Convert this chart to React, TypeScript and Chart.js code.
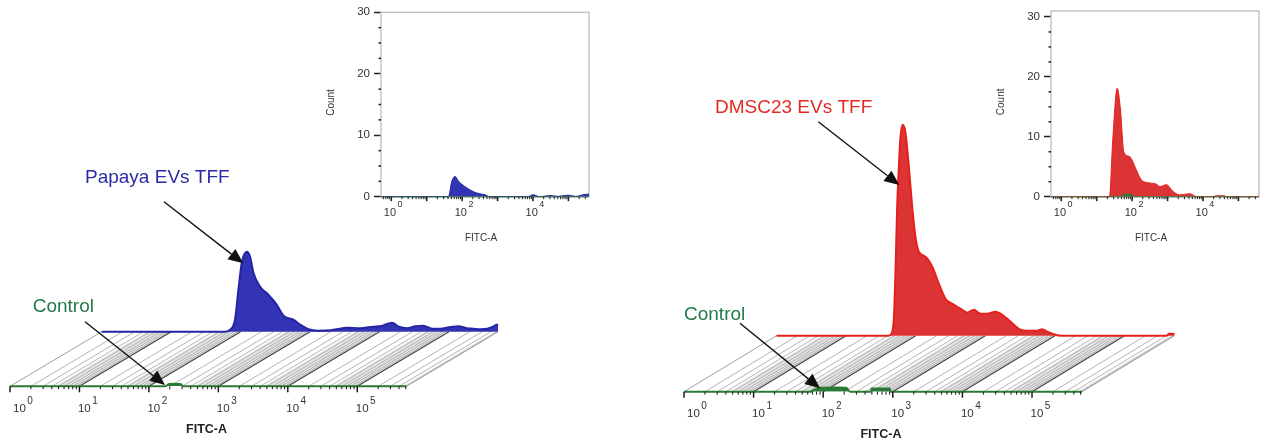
import React, { useEffect, useRef } from 'react';
import { Chart, registerables } from 'chart.js';
Chart.register(...registerables);

// ---------------- DATA ----------------
const decadeExponents = [0, 1, 2, 3, 4, 5];
const insetDecadeLabels = [0, 2, 4];
const insetCountTicks = [0, 10, 20, 30];

// Left panel, 3D overlay – Papaya EVs TFF (back layer): FITC-A intensity / count
const papaya3dFitc = [1, 60, 71, 83, 93, 104, 123, 137, 153, 191, 251, 331, 414, 575, 719, 948, 1300, 2000, 2700, 3400, 5200, 8100, 11000, 15100, 19000, 24800, 33000, 42700, 57000, 75000, 100000, 138000, 180000, 224000, 290000, 355000, 430000, 490000, 512000];
const papaya3dCount = [0, 0, 0.2, 1.2, 4.2, 6.9, 8.0, 7.5, 5.9, 4.5, 3.7, 2.7, 1.6, 1.2, 0.7, 0.25, 0.1, 0.15, 0.3, 0.4, 0.35, 0.5, 0.6, 0.9, 0.5, 0.35, 0.55, 0.6, 0.3, 0.3, 0.45, 0.55, 0.35, 0.3, 0.25, 0.3, 0.5, 0.7, 0.7];
// Left panel, 3D overlay – Control (front layer)
const papayaCtrl3dFitc = [1, 170, 195, 240, 290, 310, 512000];
const papayaCtrl3dCount = [0, 0, 0.22, 0.25, 0.2, 0, 0];

// Right panel, 3D overlay – DMSC23 EVs TFF (back layer)
const dmsc3dFitc = [1, 40, 43, 48, 51, 54, 57, 60, 65, 71, 79, 89, 99, 111, 138, 173, 215, 268, 334, 441, 550, 684, 853, 1064, 1403, 1652, 2065, 2570, 3206, 3981, 5572, 6577, 7762, 10790, 13000, 400000, 440000, 480000, 524000];
const dmsc3dCount = [0, 0, 0.07, 1.2, 5.9, 12.6, 16.6, 19.6, 21.1, 20.4, 17.2, 12.9, 9.9, 8.4, 7.9, 6.9, 5.2, 3.7, 3.2, 2.7, 2.3, 2.6, 2.2, 2.2, 2.4, 2.2, 1.7, 1.1, 0.6, 0.5, 0.5, 0.65, 0.4, 0.05, 0, 0, 0.2, 0.2, 0.15];
// Right panel, 3D overlay – Control (front layer)
const dmscCtrl3dFitc = [1, 66, 70, 90, 150, 215, 243, 480, 500, 900, 930, 524000];
const dmscCtrl3dCount = [0, 0, 0.1, 0.4, 0.42, 0.4, 0, 0, 0.33, 0.33, 0, 0];

// Insets (Count vs FITC-A)
const papayaInsetFitc = [0.52, 41, 51, 63, 79, 110, 168, 259, 447, 617, 7000, 10000, 16000, 30000, 50000, 98000, 160000, 324000, 380000];
const papayaInsetCount = [0, 0, 2.5, 3.3, 2.5, 1.8, 1.1, 0.6, 0.3, 0, 0, 0.3, 0, 0.2, 0.05, 0.25, 0.05, 0.4, 0.4];
const papayaCtrlInsetFitc = [0.52, 380000];
const papayaCtrlInsetCount = [0, 0];

const dmscInsetFitc = [0.52, 22.9, 28.4, 37.8, 46.9, 58.2, 84.3, 131, 182, 309, 479, 603, 933, 1413, 2188, 4266, 6607, 19000, 22400, 39800, 46800, 380000];
const dmscInsetCount = [0, 0, 9.5, 18.1, 14.5, 7.5, 6.7, 4.5, 2.8, 2.3, 2.1, 1.7, 2.0, 0.9, 0.3, 0.5, 0, 0, 0.15, 0.15, 0, 0];
const dmscCtrlInsetFitc = [0.52, 50, 54, 70, 102, 110, 380000];
const dmscCtrlInsetCount = [0, 0, 0.4, 0.45, 0.35, 0, 0];

// ---------------- STYLE ----------------
const FONT_ANN = '"Liberation Sans", Arial, sans-serif';
const FONT_AX = '"Liberation Sans", Arial, sans-serif';
const GREEN = '#2b7a34';
const GREEN_TEXT = '#237a4a';

const toPoints = (xs: number[], ys: number[]) => xs.map((x, i) => ({ x, y: ys[i] }));

function drawArrow(ctx: CanvasRenderingContext2D, x1: number, y1: number, x2: number, y2: number) {
  const ang = Math.atan2(y2 - y1, x2 - x1);
  const L = 15, W = 6.5;
  const bx = x2 - L * Math.cos(ang), by = y2 - L * Math.sin(ang);
  ctx.strokeStyle = '#111';
  ctx.lineWidth = 1.4;
  ctx.beginPath(); ctx.moveTo(x1, y1); ctx.lineTo(bx, by); ctx.stroke();
  ctx.fillStyle = '#111';
  ctx.beginPath();
  ctx.moveTo(x2, y2);
  ctx.lineTo(bx - W * Math.sin(ang), by + W * Math.cos(ang));
  ctx.lineTo(bx + W * Math.sin(ang), by - W * Math.cos(ang));
  ctx.closePath(); ctx.fill();
}

function drawPow(ctx: CanvasRenderingContext2D, x: number, baseY: number, exp: number, big: number, small: number, raise: number) {
  ctx.textAlign = 'left';
  ctx.textBaseline = 'alphabetic';
  ctx.font = `${big}px ${FONT_AX}`;
  const w = ctx.measureText('10').width;
  ctx.fillText('10', x, baseY);
  ctx.font = `${small}px ${FONT_AX}`;
  ctx.fillText(String(exp), x + w + 1.5, baseY - raise);
}

type Ann = { text: string; color: string; x: number; y: number; ax1: number; ay1: number; ax2: number; ay2: number };
type MainCfg = {
  width: number; height: number; x0: number; frontY: number; decadePx: number; frontMaxExp: number;
  dxPx: number; dyPx: number;
  backFitc: number[]; backCount: number[]; backFill: string; backLine: string; backName: string;
  ctrlFitc: number[]; ctrlCount: number[];
  sample: Ann; control: Ann;
};

const UNIT_PX = 10;
const Y_MAX = 30;

function buildMain(canvas: HTMLCanvasElement, cfg: MainCfg) {
  const shiftDec = cfg.dxPx / cfg.decadePx;
  const dyUnits = cfg.dyPx / UNIT_PX;
  const areaW = cfg.decadePx * cfg.frontMaxExp + cfg.dxPx;
  const frontMax = Math.pow(10, cfg.frontMaxExp);

  const decor = {
    id: 'floor3d',
    beforeDatasetsDraw(chart: any) {
      const ctx = chart.ctx as CanvasRenderingContext2D;
      const { x, xb, y, yb } = chart.scales;
      const fy = y.getPixelForValue(0), by = yb.getPixelForValue(0);
      ctx.save();
      // shaded bands (dense minor lines region)
      for (let n = 0; n <= 5; n++) {
        const v1 = 4.5 * Math.pow(10, n);
        const v2 = Math.min(Math.pow(10, n + 1), frontMax);
        if (v1 >= frontMax) continue;
        ctx.fillStyle = 'rgba(0,0,0,0.1)';
        ctx.beginPath();
        ctx.moveTo(x.getPixelForValue(v1), fy);
        ctx.lineTo(x.getPixelForValue(v2), fy);
        ctx.lineTo(xb.getPixelForValue(v2), by);
        ctx.lineTo(xb.getPixelForValue(v1), by);
        ctx.closePath(); ctx.fill();
      }
      const seg = (v: number, color: string, lw: number) => {
        ctx.strokeStyle = color; ctx.lineWidth = lw;
        ctx.beginPath();
        ctx.moveTo(x.getPixelForValue(v), fy);
        ctx.lineTo(xb.getPixelForValue(v), by);
        ctx.stroke();
      };
      for (let n = 0; n <= 5; n++) {
        for (let m = 2; m <= 9; m++) {
          const v = m * Math.pow(10, n);
          if (v > frontMax) continue;
          seg(v, '#adadad', 0.9);
        }
      }
      seg(1, '#a0a0a0', 1);
      seg(frontMax, '#a0a0a0', 1);
      for (let n = 1; n <= 5; n++) seg(Math.pow(10, n), '#454545', 1.3);
      ctx.restore();
    },
    afterDraw(chart: any) {
      const ctx = chart.ctx as CanvasRenderingContext2D;
      const { x, y } = chart.scales;
      const fy = y.getPixelForValue(0);
      ctx.save();
      // front axis ticks
      ctx.strokeStyle = '#1a1a1a';
      for (let n = 0; n <= 5; n++) {
        for (let m = 1; m <= 9; m++) {
          const v = m * Math.pow(10, n);
          if (v > frontMax) continue;
          const px = x.getPixelForValue(v);
          ctx.lineWidth = m === 1 ? 1.5 : 1;
          ctx.beginPath(); ctx.moveTo(px, fy); ctx.lineTo(px, fy + (m === 1 ? 6 : 3)); ctx.stroke();
        }
      }
      // decade labels
      ctx.fillStyle = '#333';
      decadeExponents.forEach((e) => {
        const px = x.getPixelForValue(Math.pow(10, e));
        drawPow(ctx, Math.max(px - 1.5, chart.chartArea.left + 3), fy + 25.5, e, 11.5, 10, 8);
      });
      // axis title
      ctx.font = `bold 12.5px ${FONT_AX}`;
      ctx.textAlign = 'center';
      ctx.textBaseline = 'middle';
      ctx.fillStyle = '#222';
      ctx.fillText('FITC-A', x.getPixelForValue(Math.pow(10, 2.83)), fy + 43);
      // annotations
      [cfg.sample, cfg.control].forEach((a) => {
        ctx.font = `19px ${FONT_ANN}`;
        ctx.textAlign = 'left';
        ctx.textBaseline = 'alphabetic';
        ctx.fillStyle = a.color;
        ctx.fillText(a.text, a.x, a.y);
        drawArrow(ctx, a.ax1, a.ay1, a.ax2, a.ay2);
      });
      ctx.restore();
    },
  };

  return new Chart(canvas, {
    type: 'line',
    data: {
      datasets: [
        {
          label: 'Control',
          data: toPoints(cfg.ctrlFitc, cfg.ctrlCount),
          xAxisID: 'x', yAxisID: 'y',
          borderColor: GREEN, backgroundColor: GREEN, borderWidth: 2,
          fill: 'origin', pointRadius: 0, cubicInterpolationMode: 'monotone', clip: false,
        } as any,
        {
          label: cfg.backName,
          data: toPoints(cfg.backFitc, cfg.backCount),
          xAxisID: 'xb', yAxisID: 'yb',
          borderColor: cfg.backLine, backgroundColor: cfg.backFill, borderWidth: 2,
          fill: 'origin', pointRadius: 0, cubicInterpolationMode: 'monotone', clip: false,
        } as any,
      ],
    },
    options: {
      animation: false,
      responsive: false,
      layout: {
        padding: {
          left: cfg.x0,
          right: cfg.width - cfg.x0 - areaW,
          top: cfg.frontY - Y_MAX * UNIT_PX,
          bottom: cfg.height - cfg.frontY,
        },
      },
      plugins: { legend: { display: false }, tooltip: { enabled: false } },
      scales: {
        x: { type: 'logarithmic', display: false, min: 1, max: Math.pow(10, cfg.frontMaxExp + shiftDec) },
        xb: { type: 'logarithmic', display: false, min: Math.pow(10, -shiftDec), max: frontMax },
        y: { type: 'linear', display: false, min: 0, max: Y_MAX },
        yb: { type: 'linear', display: false, min: -dyUnits, max: Y_MAX - dyUnits },
      },
    } as any,
    plugins: [decor],
  });
}

type InsetCfg = {
  width: number; height: number; right: number; top: number; bottom: number; yMax: number;
  fitc: number[]; count: number[]; fill: string; line: string; name: string;
  ctrlFitc: number[]; ctrlCount: number[];
};

const INSET_LEFT = 61;
const INSET_XMIN = Math.pow(10, -0.29);
const INSET_XMAX = Math.pow(10, 5.58);

function buildInset(canvas: HTMLCanvasElement, cfg: InsetCfg) {
  const decor = {
    id: 'insetDecor',
    beforeDatasetsDraw(chart: any) {
      const ctx = chart.ctx as CanvasRenderingContext2D;
      const a = chart.chartArea;
      ctx.save();
      ctx.strokeStyle = '#bdbdbd';
      ctx.lineWidth = 1.3;
      ctx.strokeRect(a.left, a.top, a.right - a.left, a.bottom - a.top);
      ctx.strokeStyle = '#94aca6';
      ctx.lineWidth = 1.6;
      ctx.beginPath(); ctx.moveTo(a.left, a.bottom); ctx.lineTo(a.right, a.bottom); ctx.stroke();
      ctx.restore();
    },
    afterDraw(chart: any) {
      const ctx = chart.ctx as CanvasRenderingContext2D;
      const { x, y } = chart.scales;
      const a = chart.chartArea;
      ctx.save();
      ctx.strokeStyle = '#222';
      // y minor ticks
      for (let v = 2.5; v < cfg.yMax; v += 2.5) {
        if (Math.abs(v % 10) < 1e-6) continue;
        const py = y.getPixelForValue(v);
        ctx.lineWidth = 1.5;
        ctx.beginPath(); ctx.moveTo(a.left - 2.5, py); ctx.lineTo(a.left, py); ctx.stroke();
      }
      // x ticks
      for (let n = -1; n <= 5; n++) {
        for (let m = 1; m <= 9; m++) {
          const v = m * Math.pow(10, n);
          if (v < INSET_XMIN || v > INSET_XMAX) continue;
          const px = x.getPixelForValue(v);
          ctx.lineWidth = m === 1 ? 1.6 : 1;
          ctx.beginPath(); ctx.moveTo(px, a.bottom); ctx.lineTo(px, a.bottom + (m === 1 ? 4.5 : 2.5)); ctx.stroke();
        }
      }
      ctx.fillStyle = '#333';
      insetDecadeLabels.forEach((e) => {
        const px = x.getPixelForValue(Math.pow(10, e));
        drawPow(ctx, px - 7.5, a.bottom + 19.5, e, 11, 9, 9);
      });
      ctx.font = `10px ${FONT_AX}`;
      ctx.textAlign = 'center';
      ctx.textBaseline = 'middle';
      ctx.fillText('FITC-A', (a.left + a.right) / 2 - 4, a.bottom + 42);
      ctx.translate(11, (a.top + a.bottom) / 2 - 2);
      ctx.rotate(-Math.PI / 2);
      ctx.fillText('Count', 0, 0);
      ctx.restore();
    },
  };

  return new Chart(canvas, {
    type: 'line',
    data: {
      datasets: [
        {
          label: 'Control',
          data: toPoints(cfg.ctrlFitc, cfg.ctrlCount),
          borderColor: 'rgba(43,122,52,0.55)', backgroundColor: GREEN, borderWidth: 1.2,
          fill: 'origin', pointRadius: 0, cubicInterpolationMode: 'monotone', clip: false,
        } as any,
        {
          label: cfg.name,
          data: toPoints(cfg.fitc, cfg.count),
          borderColor: cfg.line, backgroundColor: cfg.fill, borderWidth: 1,
          fill: 'origin', pointRadius: 0, cubicInterpolationMode: 'monotone', clip: false,
        } as any,
      ],
    },
    options: {
      animation: false,
      responsive: false,
      layout: { padding: { left: 0, right: cfg.width - cfg.right, top: cfg.top, bottom: cfg.height - cfg.bottom } },
      plugins: { legend: { display: false }, tooltip: { enabled: false } },
      scales: {
        x: { type: 'logarithmic', display: false, min: INSET_XMIN, max: INSET_XMAX },
        y: {
          type: 'linear', min: 0, max: cfg.yMax,
          afterFit: (s: any) => { s.width = INSET_LEFT; },
          afterBuildTicks: (s: any) => { s.ticks = insetCountTicks.map((v) => ({ value: v })); },
          ticks: { font: { family: FONT_AX, size: 11.5 }, color: '#333', padding: 4 },
          grid: { drawOnChartArea: false, tickLength: 7, tickWidth: 1.5, tickColor: '#222' },
          border: { display: false },
        },
      },
    } as any,
    plugins: [decor],
  });
}

// ---------------- PANELS ----------------
const LEFT_MAIN: MainCfg = {
  width: 620, height: 445, x0: 10, frontY: 386.3, decadePx: 69.45, frontMaxExp: 5.71, dxPx: 91.7, dyPx: 54.6,
  backFitc: papaya3dFitc, backCount: papaya3dCount, backFill: '#3333b6', backLine: '#2424a4', backName: 'Papaya EVs TFF',
  ctrlFitc: papayaCtrl3dFitc, ctrlCount: papayaCtrl3dCount,
  sample: { text: 'Papaya EVs TFF', color: '#2b2ba8', x: 85, y: 183, ax1: 164, ay1: 201.7, ax2: 243.3, ay2: 263.3 },
  control: { text: 'Control', color: GREEN_TEXT, x: 32.7, y: 312, ax1: 85, ay1: 321.7, ax2: 165, ay2: 385 },
};

const RIGHT_MAIN: MainCfg = {
  width: 589, height: 445, x0: 10, frontY: 391.7, decadePx: 69.6, frontMaxExp: 5.72, dxPx: 92.5, dyPx: 56,
  backFitc: dmsc3dFitc, backCount: dmsc3dCount, backFill: '#dc3434', backLine: '#e6201c', backName: 'DMSC23 EVs TFF',
  ctrlFitc: dmscCtrl3dFitc, ctrlCount: dmscCtrl3dCount,
  sample: { text: 'DMSC23 EVs TFF', color: '#e42a22', x: 41, y: 113, ax1: 144.3, ay1: 121.7, ax2: 225.3, ay2: 185 },
  control: { text: 'Control', color: GREEN_TEXT, x: 10, y: 320, ax1: 66, ay1: 323.3, ax2: 146, ay2: 388.3 },
};

const LEFT_INSET: InsetCfg = {
  width: 280, height: 250, right: 269, top: 12.3, bottom: 196.7, yMax: 30,
  fitc: papayaInsetFitc, count: papayaInsetCount, fill: '#3333b6', line: '#2424a4', name: 'Papaya EVs TFF',
  ctrlFitc: papayaCtrlInsetFitc, ctrlCount: papayaCtrlInsetCount,
};

const RIGHT_INSET: InsetCfg = {
  width: 273, height: 250, right: 269, top: 11, bottom: 196.7, yMax: 31,
  fitc: dmscInsetFitc, count: dmscInsetCount, fill: '#dc3434', line: '#e6201c', name: 'DMSC23 EVs TFF',
  ctrlFitc: dmscCtrlInsetFitc, ctrlCount: dmscCtrlInsetCount,
};

function ChartCanvas(props: { left: number; top: number; width: number; height: number; build: (c: HTMLCanvasElement) => Chart }) {
  const ref = useRef<HTMLCanvasElement>(null);
  useEffect(() => {
    const chart = props.build(ref.current as HTMLCanvasElement);
    return () => chart.destroy();
  }, []);
  return (
    <canvas
      ref={ref}
      width={props.width}
      height={props.height}
      style={{ position: 'absolute', left: props.left, top: props.top, width: props.width, height: props.height }}
    />
  );
}

export default function App() {
  return (
    <div style={{ position: 'absolute', left: 0, top: 0, width: 1263, height: 445, background: '#fff', overflow: 'hidden' }}>
      <ChartCanvas left={0} top={0} width={620} height={445} build={(c) => buildMain(c, LEFT_MAIN)} />
      <ChartCanvas left={674} top={0} width={589} height={445} build={(c) => buildMain(c, RIGHT_MAIN)} />
      <ChartCanvas left={320} top={0} width={280} height={250} build={(c) => buildInset(c, LEFT_INSET)} />
      <ChartCanvas left={990} top={0} width={273} height={250} build={(c) => buildInset(c, RIGHT_INSET)} />
    </div>
  );
}
